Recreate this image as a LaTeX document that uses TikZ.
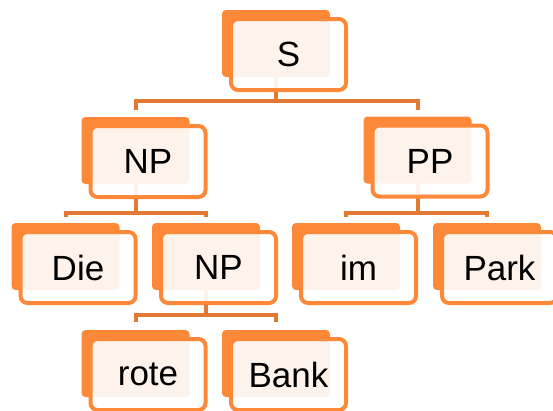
\documentclass[tikz,border=0pt]{standalone}
\usepackage{fontspec}
\setmainfont{Liberation Sans}
\usepackage{tikz}
\usetikzlibrary{backgrounds}
\definecolor{BoxOrange}{HTML}{FD8838}
\definecolor{LinkOrange}{HTML}{E27A34}
\tikzstyle{back}=[rectangle,inner sep=0pt,outer sep=0pt,minimum width=108pt,minimum height=67pt,rounded corners=4pt,fill=BoxOrange]
\tikzstyle{front}=[rectangle,inner sep=0pt,outer sep=0pt,minimum width=115pt,minimum height=71pt,rounded corners=7pt,draw=BoxOrange,line width=4pt,fill=white,fill opacity=0.9,text opacity=1,font=\fontsize{35}{42}\selectfont]
\tikzstyle{link}=[draw=LinkOrange,line width=4pt]

\begin{document}
\begin{tikzpicture}[x=1pt,y=-1pt]
 \useasboundingbox (0,0) rectangle (553,410);
 % back plates
 \node [style=back] (s) at (276, 43.5) {};
 \node [style=back] (np1) at (135.5, 150.5) {};
 \node [style=back] (pp) at (417.5, 150) {};
 \node [style=back] (die) at (65.5, 256.5) {};
 \node [style=back] (np2) at (206, 256.5) {};
 \node [style=back] (im) at (346, 256.5) {};
 \node [style=back] (park) at (487, 256.5) {};
 \node [style=back] (rote) at (135.5, 363.5) {};
 \node [style=back] (bank) at (276, 363.5) {};
 % front plates with the words
 \node [style=front] (s-f) at (288.5, 54.5) {S};
 \node [style=front] (np1-f) at (148, 161.5) {NP};
 \node [style=front] (pp-f) at (430, 161) {PP};
 \node [style=front] (die-f) at (78, 267.5) {Die};
 \node [style=front] (np2-f) at (218.5, 267.5) {NP};
 \node [style=front] (im-f) at (358.5, 267.5) {im};
 \node [style=front] (park-f) at (499.5, 267.5) {Park};
 \node [style=front] (rote-f) at (148, 374.5) {rote};
 \node [style=front] (bank-f) at (288.5, 374.5) {Bank};
 % branches
 \begin{scope}[on background layer]
  \draw [style=link] (s.center) -- ++(0, 57.5) coordinate (s-bar) -| ([yshift=7pt]np1.north);
  \draw [style=link] (s-bar) -| ([yshift=7pt]pp.north);
  \draw [style=link] (np1.center) -- ++(0, 62.5) coordinate (np1-bar) -| ([yshift=6pt]die.north);
  \draw [style=link] (np1-bar) -| ([yshift=6pt]np2.north);
  \draw [style=link] (pp.center) -- ++(0, 63) coordinate (pp-bar) -| ([yshift=6pt]im.north);
  \draw [style=link] (pp-bar) -| ([yshift=6pt]park.north);
  \draw [style=link] (np2.center) -- ++(0, 58.5) coordinate (np2-bar) -| ([yshift=8pt]rote.north);
  \draw [style=link] (np2-bar) -| ([yshift=8pt]bank.north);
 \end{scope}
\end{tikzpicture}
\end{document}
